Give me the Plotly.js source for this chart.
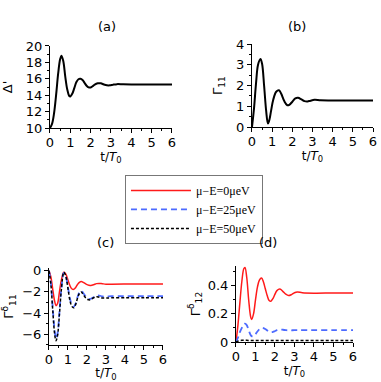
<!DOCTYPE html>
<html>
<head>
<meta charset="utf-8">
<script src="https://cdn.plot.ly/plotly-3.0.1.min.js"></script>
<style>
  html, body { margin: 0; padding: 0; background: #fff; }
  #chart { width: 381px; height: 382px; }
</style>
</head>
<body>
<div id="chart"></div>
<script>
// (a) Delta'
var tA = [0, 0.1, 0.2, 0.3, 0.4, 0.5, 0.56, 0.65, 0.75, 0.85, 0.95, 1.0, 1.1, 1.2, 1.3, 1.4, 1.5, 1.6, 1.7, 1.8, 1.9, 2.0, 2.1, 2.2, 2.35, 2.5, 2.65, 2.8, 2.95, 3.1, 3.3, 3.6, 4, 5, 6];
var deltaA = [10, 10.5, 11.8, 14, 16.6, 18.4, 18.8, 18.2, 16.3, 14.7, 13.9, 13.85, 14.2, 14.9, 15.6, 15.95, 16.0, 15.85, 15.5, 15.15, 14.95, 14.95, 15.1, 15.3, 15.45, 15.45, 15.3, 15.2, 15.2, 15.28, 15.35, 15.32, 15.3, 15.3, 15.3];

// (b) Gamma_11
var tB = [0, 0.1, 0.2, 0.3, 0.42, 0.5, 0.6, 0.7, 0.79, 0.85, 0.95, 1.05, 1.2, 1.34, 1.45, 1.6, 1.75, 1.85, 2.0, 2.15, 2.28, 2.45, 2.6, 2.75, 2.9, 3.1, 3.4, 4, 5, 6];
var gamma11 = [0, 0.9, 2.1, 3.0, 3.28, 3.05, 2.0, 0.8, 0.17, 0.3, 0.8, 1.3, 1.7, 1.77, 1.6, 1.25, 1.05, 1.07, 1.22, 1.38, 1.41, 1.33, 1.25, 1.23, 1.27, 1.31, 1.29, 1.28, 1.28, 1.28];

// (c) Gamma^delta_11 for three detunings
var tC = [0, 0.1, 0.2, 0.3, 0.37, 0.45, 0.55, 0.65, 0.78, 0.88, 1.0, 1.1, 1.2, 1.3, 1.4, 1.5, 1.6, 1.7, 1.8, 1.95, 2.1, 2.2, 2.35, 2.5, 2.65, 2.8, 3.0, 3.3, 4, 5, 6];
var c0  = [0, -0.6, -1.8, -2.9, -3.3, -3.1, -2.0, -0.9, -0.15, -0.3, -0.9, -1.4, -1.7, -1.76, -1.6, -1.3, -1.1, -1.03, -1.1, -1.27, -1.38, -1.39, -1.32, -1.22, -1.2, -1.23, -1.27, -1.27, -1.25, -1.25, -1.25];
var c25 = [0, -1.2, -3.6, -5.7, -6.4, -5.9, -3.9, -1.7, -0.2, -0.5, -1.6, -2.6, -3.2, -3.4, -3.1, -2.5, -2.05, -1.9, -2.1, -2.45, -2.65, -2.65, -2.5, -2.35, -2.35, -2.42, -2.45, -2.4, -2.4, -2.4, -2.4];
var c50 = [0, -1.3, -3.8, -6.0, -6.6, -6.1, -4.1, -1.8, -0.15, -0.5, -1.7, -2.8, -3.35, -3.5, -3.2, -2.6, -2.15, -2.0, -2.25, -2.6, -2.75, -2.72, -2.55, -2.45, -2.5, -2.57, -2.58, -2.55, -2.55, -2.55, -2.55];

// (d) Gamma^delta_12 for three detunings
var tD = [0, 0.1, 0.2, 0.3, 0.4, 0.46, 0.55, 0.65, 0.75, 0.8, 0.9, 1.0, 1.1, 1.2, 1.31, 1.4, 1.5, 1.6, 1.7, 1.79, 1.9, 2.0, 2.1, 2.25, 2.4, 2.55, 2.7, 2.85, 3.0, 3.15, 3.4, 4, 5, 6];
var d0  = [0, 0.12, 0.28, 0.43, 0.52, 0.53, 0.46, 0.3, 0.18, 0.16, 0.2, 0.3, 0.39, 0.44, 0.455, 0.43, 0.38, 0.33, 0.295, 0.29, 0.31, 0.34, 0.365, 0.376, 0.36, 0.34, 0.33, 0.337, 0.35, 0.355, 0.35, 0.347, 0.348, 0.348];
var d25 = [0, 0.03, 0.07, 0.1, 0.125, 0.13, 0.12, 0.085, 0.05, 0.042, 0.04, 0.055, 0.075, 0.09, 0.1, 0.099, 0.092, 0.082, 0.074, 0.07, 0.072, 0.078, 0.084, 0.088, 0.087, 0.084, 0.082, 0.083, 0.084, 0.084, 0.084, 0.084, 0.084, 0.084];
var d50 = [0, 0.006, 0.01, 0.012, 0.012, 0.012, 0.012, 0.011, 0.01, 0.01, 0.01, 0.01, 0.011, 0.011, 0.011, 0.011, 0.011, 0.011, 0.01, 0.01, 0.01, 0.01, 0.01, 0.01, 0.01, 0.01, 0.01, 0.01, 0.01, 0.01, 0.01, 0.01, 0.01, 0.01];

var names = ['\u03bc\u2212E=0\u03bceV', '\u03bc\u2212E=25\u03bceV', '\u03bc\u2212E=50\u03bceV'];

var RED = {color: '#ff1a1a', width: 1.5, shape: 'spline', smoothing: 1};
var BLUE = {color: '#4d6bff', width: 1.8, dash: '6px,4px', shape: 'spline', smoothing: 1};
var BLACK = {color: '#000', width: 1.5, dash: '3px,2px', shape: 'spline', smoothing: 1};

var traces = [
  {x: tA, y: deltaA, xaxis: 'x', yaxis: 'y', mode: 'lines', showlegend: false,
   line: {color: '#000', width: 2, shape: 'spline', smoothing: 1}},
  {x: tB, y: gamma11, xaxis: 'x2', yaxis: 'y2', mode: 'lines', showlegend: false,
   line: {color: '#000', width: 2, shape: 'spline', smoothing: 1}},
  {x: tC, y: c0, xaxis: 'x3', yaxis: 'y3', mode: 'lines', name: names[0], line: RED},
  {x: tC, y: c25, xaxis: 'x3', yaxis: 'y3', mode: 'lines', name: names[1], line: BLUE},
  {x: tC, y: c50, xaxis: 'x3', yaxis: 'y3', mode: 'lines', name: names[2], line: BLACK},
  {x: tD, y: d0, xaxis: 'x4', yaxis: 'y4', mode: 'lines', showlegend: false, line: RED},
  {x: tD, y: d25, xaxis: 'x4', yaxis: 'y4', mode: 'lines', showlegend: false, line: BLUE},
  {x: tD, y: d50, xaxis: 'x4', yaxis: 'y4', mode: 'lines', showlegend: false, line: BLACK}
];

var FONT = {family: 'DejaVu Sans, Arial, sans-serif', size: 13, color: '#000'};
var XT = {text: 't/<i>T</i><sub>0</sub>', font: {family: FONT.family, size: 12, color: '#000'}, standoff: 0};

function xax(domain, anchor) {
  return {
    domain: domain, anchor: anchor, range: [0, 6], dtick: 1, tick0: 0,
    showgrid: false, zeroline: false, showline: true, linecolor: '#000', linewidth: 1,
    ticks: 'outside', ticklen: 4, tickcolor: '#000', tickfont: FONT, ticklabelstandoff: -2,
    minor: {dtick: 0.5, ticks: 'outside', ticklen: 2, tickcolor: '#000'},
    title: XT
  };
}
function yax(domain, anchor, range, dtick, minor, title, standoff) {
  return {
    domain: domain, anchor: anchor, range: range, dtick: dtick,
    showgrid: false, zeroline: false, showline: true, linecolor: '#000', linewidth: 1,
    ticks: 'outside', ticklen: 4, tickcolor: '#000', tickfont: FONT,
    minor: {dtick: minor, ticks: 'outside', ticklen: 2, tickcolor: '#000'},
    title: {text: title, font: FONT, standoff: standoff}
  };
}

var layout = {
  width: 381, height: 382,
  margin: {l: 0, r: 0, t: 0, b: 0},
  paper_bgcolor: '#fff', plot_bgcolor: 'rgba(0,0,0,0)',
  font: FONT,
  xaxis: xax([0.1312, 0.4514], 'y'),
  yaxis: yax([0.6649, 0.8796], 'x', [10, 20], 2, 1, "\u0394'", 10),
  xaxis2: xax([0.6614, 0.979], 'y2'),
  yaxis2: yax([0.6675, 0.8848], 'x2', [0, 4], 1, 0.5, '\u0393<sub>11</sub>', 10),
  xaxis3: xax([0.1286, 0.4278], 'y3'),
  yaxis3: yax([0.0969, 0.2984], 'x3', [-7, 0.25], 2, 1, '\u0393<sup>\u03b4</sup><sub>11</sub>', 5),
  xaxis4: xax([0.6194, 0.9265], 'y4'),
  yaxis4: yax([0.1047, 0.3037], 'x4', [0, 0.54], 0.2, 0.1, '\u0393<sup>\u03b4</sup><sub>12</sub>', 4),
  showlegend: true,
  legend: {
    x: 0.328, y: 0.542, xanchor: 'left', yanchor: 'top',
    bgcolor: '#fff', bordercolor: '#777', borderwidth: 1,
    font: {family: 'Liberation Serif, Times New Roman, serif', size: 12, color: '#000'},
    itemwidth: 60, tracegroupgap: 0
  },
  annotations: [
    {text: '(a)', x: 0.252, y: 0.955, xref: 'paper', yref: 'paper', showarrow: false, font: FONT},
    {text: '(b)', x: 0.808, y: 0.955, xref: 'paper', yref: 'paper', showarrow: false, font: FONT},
    {text: '(c)', x: 0.249, y: 0.366, xref: 'paper', yref: 'paper', showarrow: false, font: FONT},
    {text: '(d)', x: 0.732, y: 0.366, xref: 'paper', yref: 'paper', showarrow: false, font: FONT}
  ]
};

Plotly.newPlot('chart', traces, layout, {displayModeBar: false, staticPlot: true});
</script>
</body>
</html>
